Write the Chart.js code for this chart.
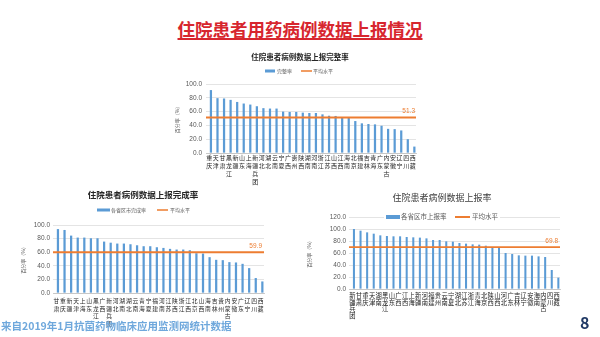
<!DOCTYPE html>
<html><head><meta charset="utf-8">
<script src="https://cdn.jsdelivr.net/npm/chart.js@4"></script>
<style>
html,body{margin:0;padding:0;background:#fff;width:600px;height:337px;overflow:hidden;position:relative;font-family:"Noto Sans CJK SC","Noto Sans",sans-serif;}
#title{position:absolute;left:0;width:600px;top:18px;text-align:center;font-size:17.5px;font-weight:bold;color:#D7262E;text-decoration:underline;text-decoration-thickness:1.5px;text-underline-offset:2px;line-height:22px;white-space:nowrap;}
.box{position:absolute;}
#src{position:absolute;left:1px;top:319px;font-size:10.5px;font-weight:bold;color:#6FA8DC;line-height:14px;white-space:nowrap;}
#pg{position:absolute;left:580px;top:312px;font-size:16px;font-weight:bold;color:#1F3864;line-height:20px;}
</style></head><body>
<div id="title">住院患者用药病例数据上报情况</div>
<div class="box" style="left:170px;top:48px;width:255px;height:142px"><canvas id="c1"></canvas></div>
<div class="box" style="left:18px;top:187px;width:256px;height:140px"><canvas id="c2"></canvas></div>
<div class="box" style="left:300px;top:188px;width:266px;height:140px"><canvas id="c3"></canvas></div>
<div id="src">来自2019年1月抗菌药物临床应用监测网统计数据</div>
<div id="pg">8</div>
<script>
// ---------- data ----------
const title1 = '住院患者病例数据上报完整率';
const barName1 = '完整率';
const cats1 = ['重庆','天津','甘肃','黑龙江','新疆','山东','上海','新疆兵团','河北','湖北','云南','宁夏','广西','贵州','陕西','湖南','河南','浙江','江苏','山西','江西','海南','北京','福建','吉林','青海','广东','内蒙古','安徽','辽宁','四川','西藏'];
const vals1 = [91.2,79.5,79.0,77.0,74.0,71.7,70.2,67.8,65.0,64.4,64.4,60.0,59.5,59.5,58.5,58.0,58.0,56.0,54.0,53.7,51.2,50.7,46.3,43.0,42.0,41.5,39.5,35.0,34.6,32.7,20.0,9.3];
const avg1 = 51.3;

const title2 = '住院患者病例数据上报完成率';
const barName2 = '各省区市完成率';
const cats2 = ['甘肃','重庆','新疆','天津','上海','山东','黑龙江','广西','新疆兵团','河北','湖南','湖北','云南','青海','宁夏','福建','河南','江苏','陕西','浙江','江西','北京','山西','海南','吉林','贵州','内蒙古','安徽','广东','辽宁','四川','西藏'];
const vals2 = [94.0,92.7,84.4,81.5,81.5,80.5,80.5,75.6,74.0,72.7,72.7,71.7,70.2,68.8,68.8,67.3,66.3,64.9,63.9,63.9,62.9,58.5,58.0,52.7,48.8,48.3,45.4,44.9,42.9,36.6,22.0,17.0];
const avg2 = 59.9;

const title3 = '住院患者病例数据上报率';
const barName3 = '各省区市上报率';
const cats3 = ['新疆兵团','甘肃','重庆','天津','湖南','黑龙江','山东','广西','江西','上海','新疆','河南','福建','贵州','云南','宁夏','湖北','江苏','浙江','青海','北京','陕西','山西','河北','广东','吉林','辽宁','安徽','海南','内蒙古','四川','西藏'];
const vals3 = [100.0,97.2,94.4,92.2,89.4,88.3,87.8,87.8,86.7,86.1,85.6,84.4,81.7,81.7,79.4,78.9,76.7,75.6,74.4,73.9,72.2,69.4,68.9,60.0,58.3,56.1,55.6,55.6,54.4,53.3,31.7,18.9];
const avg3 = 69.8;

const avgName = '平均水平';
const yTitle = '百分率（%）';

// ---------- drawing ----------
const FAM = "'Liberation Sans','Noto Sans CJK SC',sans-serif";
const CJK = "'Noto Sans CJK SC',sans-serif";
const BLUE = '#5B9BD5', ORANGE = '#ED7D31';

const overlay = {
  id: 'overlay',
  afterDraw(chart, args, o) {
    const ctx = chart.ctx;
    ctx.save();
    ctx.fillStyle = o.titleColor;
    ctx.font = o.titleFont;
    ctx.textAlign = 'center'; ctx.textBaseline = 'middle';
    ctx.fillText(o.title, o.titleX, o.titleY);
    const L = o.legend;
    if (L.bg) { ctx.fillStyle = '#fff'; ctx.fillRect(L.bgX, L.y - L.bgH/2, L.bgW, L.bgH); }
    ctx.fillStyle = BLUE;
    ctx.fillRect(L.sw1, L.y - L.h1/2, L.w1, L.h1);
    ctx.fillStyle = ORANGE;
    ctx.fillRect(L.sw2, L.y - L.h2/2, L.w2, L.h2);
    ctx.fillStyle = '#595959';
    ctx.font = L.font;
    ctx.textAlign = 'left';
    ctx.fillText(o.barName, L.t1, L.y);
    ctx.fillText(avgName, L.t2, L.y);
    const y = chart.scales.y.getPixelForValue(o.avg);
    ctx.fillStyle = ORANGE;
    ctx.font = o.avgFont;
    ctx.textAlign = 'right'; ctx.textBaseline = 'bottom';
    ctx.fillText(o.avg.toFixed(1), o.avgX, y - o.avgDy);
    ctx.restore();
  }
};

function makeChart(id, c) {
  const n = c.labels.length;
  return new Chart(document.getElementById(id), {
    data: {
      labels: c.labels.map(s => s.split('')),
      datasets: [
        { type: 'line', label: avgName, xAxisID: 'x2',
          data: [{x: -0.5, y: c.avg}, {x: n - 0.5, y: c.avg}],
          borderColor: ORANGE, borderWidth: c.lineW, pointRadius: 0, order: 0 },
        { type: 'bar', label: c.barName, data: c.values, backgroundColor: BLUE,
          barPercentage: c.barPct, categoryPercentage: 1, order: 1 }
      ]
    },
    options: {
      responsive: true, maintainAspectRatio: false, animation: false,
      layout: { padding: { top: c.padTop, right: c.padRight, left: 0, bottom: 0 } },
      plugins: {
        legend: { display: false }, tooltip: { enabled: false }, title: { display: false },
        overlay: c.overlay
      },
      scales: {
        x: {
          grid: { display: false, drawTicks: false, tickLength: 0 },
          border: { display: true, color: '#BFBFBF', width: 0.8 },
          ticks: { autoSkip: false, maxRotation: 0, minRotation: 0, padding: c.xPad, color: '#262626',
                   font: { size: c.xFont, lineHeight: c.xLH, family: CJK } },
          afterFit(s) { s.height = c.xH; }
        },
        x2: { type: 'linear', display: false, min: -0.5, max: n - 0.5, offset: false },
        y: {
          min: 0, max: c.max,
          ticks: { stepSize: c.step, callback: v => v.toFixed(1), padding: c.yPad, color: '#595959',
                   font: { size: c.yFont, family: FAM } },
          grid: { color: '#D9D9D9', lineWidth: 0.7, drawTicks: false },
          border: { display: false },
          title: { display: true, text: yTitle, color: '#595959', font: { size: 5, family: CJK },
                   padding: { top: c.ytPad, bottom: 0 } },
          afterFit(s) { s.width = c.yW; }
        }
      }
    },
    plugins: [overlay]
  });
}

makeChart('c1', {
  labels: cats1, values: vals1, avg: avg1, barName: barName1,
  padTop: 36, padRight: 9, yW: 36, xH: 37, max: 100, step: 10,
  xFont: 6, xLH: 1.35, xPad: 0.5, yFont: 6.5, yPad: 4, ytPad: 4, lineW: 2, barPct: 0.68,
  overlay: { title: title1, titleFont: 'bold 7.5px ' + CJK, titleColor: '#262626', titleX: 130, titleY: 9.5,
             barName: barName1, avg: avg1, avgX: 245, avgDy: 3, avgFont: '6.5px ' + FAM,
             legend: { y: 23, sw1: 95, w1: 10, h1: 3, t1: 107, sw2: 131, w2: 11, h2: 1.5, t2: 143, font: '5px ' + CJK } }
});

makeChart('c2', {
  labels: cats2, values: vals2, avg: avg2, barName: barName2,
  padTop: 38, padRight: 10, yW: 35, xH: 34, max: 100, step: 10,
  xFont: 5.8, xLH: 1.3, xPad: 4, yFont: 6.5, yPad: 3, ytPad: 2, lineW: 2, barPct: 0.68,
  overlay: { title: title2, titleFont: 'bold 8.5px ' + CJK, titleColor: '#262626', titleX: 125, titleY: 8,
             barName: barName2, avg: avg2, avgX: 244, avgDy: 3, avgFont: '6.5px ' + FAM,
             legend: { y: 23, sw1: 79, w1: 13, h1: 3, t1: 93, sw2: 139, w2: 11, h2: 1.5, t2: 152, font: '5px ' + CJK } }
});

makeChart('c3', {
  labels: cats3, values: vals3, avg: avg3, barName: barName3,
  padTop: 29, padRight: 6, yW: 49, xH: 39, max: 120, step: 20,
  xFont: 6.3, xLH: 1.08, xPad: 3, yFont: 6.5, yPad: 3, ytPad: 6, lineW: 1.6, barPct: 0.62,
  overlay: { title: title3, titleFont: '9px ' + CJK, titleColor: '#404040', titleX: 142, titleY: 10,
             barName: barName3, avg: avg3, avgX: 258, avgDy: 3, avgFont: '6.5px ' + FAM,
             legend: { y: 29, bg: true, bgX: 84, bgW: 116, bgH: 9, sw1: 86, w1: 14, h1: 4, t1: 101, sw2: 155, w2: 15, h2: 2, t2: 172, font: '6.5px ' + CJK } }
});
</script>
</body></html>
